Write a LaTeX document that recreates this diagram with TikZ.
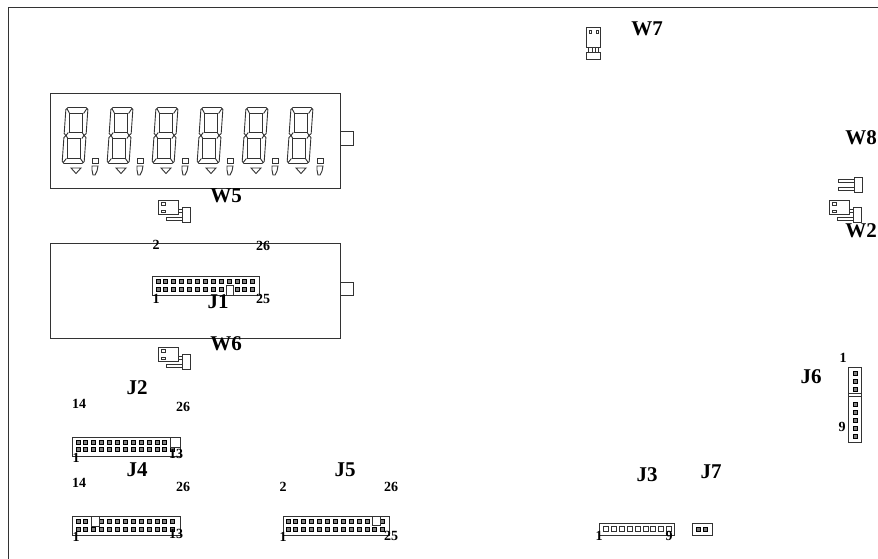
\documentclass[tikz,border=0pt]{standalone}
\usepackage{fontspec}
\setmainfont{Liberation Serif}
\usepackage{xcolor}
\definecolor{linegray}{gray}{0.2}
\tikzset{
    part/.style={draw=linegray,line width=0.9pt},
    pin/.style={draw=black,fill=gray,line width=1pt},
    openpin/.style={draw=linegray,fill=white,line width=0.9pt},
    biglabel/.style={font=\fontsize{21}{21}\selectfont\bfseries,inner sep=0pt},
    numlabel/.style={font=\fontsize{14}{14}\selectfont\bfseries,inner sep=0pt},
}
% one digit of the display, #1 is its left edge
\newcommand{\segdigit}[1]{
    \begin{scope}[shift={(#1+4,107.5)},y={(-0.07pt,-1pt)}]
        \draw[part] (2,0) -- (20,0) -- (22,2) -- (22,26) -- (20,28) -- (22,30) -- (22,54) -- (20,56) -- (2,56) -- (0,54) -- (0,30) -- (2,28) -- (0,26) -- (0,2) -- cycle;
        \draw[part] (4,6) rectangle (18,25);
        \draw[part] (4,31) rectangle (18,51);
        \draw[part] (1,1) -- (4,6) (21,1) -- (18,6) (1,55) -- (4,51) (21,55) -- (18,51);
        \draw[part] (2,28) -- (4,25) (20,28) -- (18,25) (2,28) -- (4,31) (20,28) -- (18,31);
    \end{scope}
    \draw[part] (#1+9,168) -- (#1+19,168) -- (#1+14,173.5) -- cycle;
    \draw[part] (#1+30,158) rectangle (#1+36,163);
    \draw[part] (#1+30,166) -- (#1+36,166) -- (#1+35,171) -- (#1+33,175) -- (#1+31,175) -- (#1+30,170) -- cycle;
}
% row of pins: first x, y, count
\newcommand{\pinrow}[3]{
    \foreach \n in {1,...,#3} {
        \draw[pin] ({#1+7.9*(\n-1)-2},#2-2) rectangle ++(4,4);
    }
}
% jumper with its two legs: left edge, top edge
\newcommand{\jumper}[2]{
    \draw[part] (#1,#2) rectangle ++(20.5,14);
    \draw[part] (#1+3.5,#2+2.5) rectangle ++(3.5,2.5);
    \draw[part] (#1+3.5,#2+10) rectangle ++(3.5,2.5);
    \draw[part] (#1+24,#2+7) rectangle ++(8.5,15);
    \draw[part] (#1+20.5,#2+9.5) rectangle ++(3.5,3);
    \draw[part] (#1+8,#2+17.5) rectangle ++(16,3);
}
\begin{document}
\begin{tikzpicture}[x=1pt,y=-1pt]
    \clip (0,0) rectangle (878,559);
    \draw[part] (878,7) -- (8,7) -- (8,559);

    % display
    \draw[part] (50,93) rectangle (340,188);
    \draw[part] (340,131) rectangle (353,145);
    \foreach \dx in {62,107,152,197,242,287} {
        \segdigit{\dx}
    }
    \jumper{158}{200}
    \node[biglabel] (W5) at (226,196) {W5};

    % J1
    \draw[part] (50,243) rectangle (340,338);
    \draw[part] (340,282) rectangle (353,295);
    \draw[part] (152,276) rectangle (259,295);
    \pinrow{158}{281}{13}
    \pinrow{158}{289}{13}
    \draw[openpin] (226,285) rectangle (233,295);
    \node[numlabel] (J1a) at (156,245) {2};
    \node[numlabel] (J1b) at (263,246) {26};
    \node[numlabel] (J1c) at (156,299) {1};
    \node[numlabel] (J1d) at (263,299) {25};
    \node[biglabel] (J1) at (218,302) {J1};
    \jumper{158}{347}
    \node[biglabel] (W6) at (226,344) {W6};

    % J2
    \draw[part] (72,437) rectangle (180,456);
    \pinrow{78}{442}{12}
    \pinrow{78}{449}{13}
    \draw[openpin] (170,437) rectangle (180,447);
    \node[biglabel] (J2) at (137,388) {J2};
    \node[numlabel] (J2a) at (79,404) {14};
    \node[numlabel] (J2b) at (183,407) {26};
    \node[numlabel] (J2c) at (76,458) {1};
    \node[numlabel] (J2d) at (176,454) {13};

    % J4
    \draw[part] (72,516) rectangle (180,535);
    \pinrow{78}{521}{13}
    \pinrow{78}{529}{13}
    \draw[openpin] (91,516) rectangle (99,526);
    \node[biglabel] (J4) at (137,470) {J4};
    \node[numlabel] (J4a) at (79,483) {14};
    \node[numlabel] (J4b) at (183,487) {26};
    \node[numlabel] (J4c) at (76,537) {1};
    \node[numlabel] (J4d) at (176,534) {13};

    % J5
    \draw[part] (283,516) rectangle (389,535);
    \pinrow{288}{521}{13}
    \pinrow{288}{529}{13}
    \draw[openpin] (372,516) rectangle (380,525);
    \node[biglabel] (J5) at (345,470) {J5};
    \node[numlabel] (J5a) at (283,487) {2};
    \node[numlabel] (J5b) at (391,487) {26};
    \node[numlabel] (J5c) at (283,537) {1};
    \node[numlabel] (J5d) at (391,536) {25};

    % J3 and J7
    \draw[part] (599,523) rectangle (674,535);
    \foreach \n in {0,...,8} {
        \draw[part] ({606+7.9*\n-2.5},526.5) rectangle ++(5,5);
    }
    \node[biglabel] (J3) at (647,475) {J3};
    \node[numlabel] (J3a) at (599,536) {1};
    \node[numlabel] (J3b) at (669,536) {9};
    \draw[part] (692,523) rectangle (712,535);
    \pinrow{698}{529}{2}
    \node[biglabel] (J7) at (711,472) {J7};

    % J6
    \draw[part] (848,367) rectangle (861,442);
    \draw[part] (848,393) -- (861,393);
    \draw[part] (848,396) -- (861,396);
    \foreach \py in {373,381,389,404,412,420,428,436} {
        \draw[pin] (853,\py-2) rectangle ++(4,4);
    }
    \node[biglabel] (J6) at (811,377) {J6};
    \node[numlabel] (J6a) at (843,358) {1};
    \node[numlabel] (J6b) at (842,427) {9};

    % W7
    \draw[part] (586,27) rectangle (600,47);
    \draw[part] (589,30) rectangle (591,33);
    \draw[part] (596,30) rectangle (598,33);
    \draw[part] (588,47) rectangle (592,52);
    \draw[part] (595,47) rectangle (598,52);
    \draw[part] (586,52) rectangle (600,59);
    \node[biglabel] (W7) at (647,29) {W7};

    % W8
    \draw[part] (854,177) rectangle (862,192);
    \draw[part] (838,179.5) rectangle (854,182.5);
    \draw[part] (838,187.5) rectangle (854,190.5);
    \node[biglabel,anchor=east] (W8) at (877,138) {W8};

    % W2
    \jumper{829}{200}
    \node[biglabel,anchor=east] (W2) at (877,231) {W2};
\end{tikzpicture}
\end{document}
